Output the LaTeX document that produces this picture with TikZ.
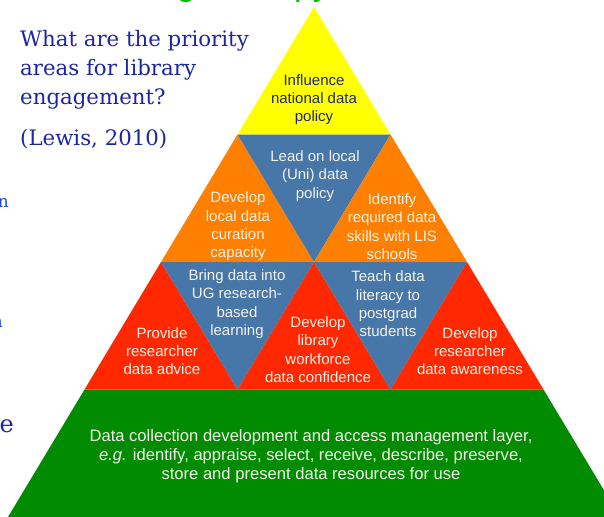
\documentclass[tikz,border=0pt]{standalone}
\usepackage{fontspec}
\newfontfamily\pyrfont{Liberation Sans}
\newfontfamily\askfont{DejaVu Serif}
\usetikzlibrary{positioning}

\definecolor{pyryellow}{RGB}{255,255,0}
\definecolor{pyrblue}{RGB}{70,119,168}
\definecolor{pyrorange}{RGB}{255,128,0}
\definecolor{pyrred}{RGB}{255,40,0}
\definecolor{pyrgreen}{RGB}{0,139,0}
\definecolor{navytext}{RGB}{30,40,110}
\definecolor{lighttext}{RGB}{245,242,235}
\definecolor{titleblue}{RGB}{28,38,160}
\definecolor{fragblue}{RGB}{30,75,210}
\definecolor{titlegreen}{RGB}{0,190,0}

\begin{document}
\begin{tikzpicture}[
    x=1pt, y=-1pt,
    lbl/.style={align=center, inner sep=0pt, text=lighttext, font=\pyrfont\fontsize{15}{18.3}\selectfont},
    toplbl/.style={lbl, text=navytext},
    baselbl/.style={lbl, font=\pyrfont\fontsize{16.6}{19}\selectfont},
    question/.style={align=left, inner sep=0pt, text=titleblue, font=\askfont\fontsize{21.3}{29}\selectfont},
    frag/.style={inner sep=0pt, text=fragblue, font=\askfont\fontsize{17}{20}\selectfont},
    titlefrag/.style={inner sep=0pt, text=titlegreen, font=\pyrfont\fontsize{34}{40}\selectfont}
]
\useasboundingbox (0,0) rectangle (604,516);
\clip (0,0) rectangle (604,516);

% Corners of the pyramid, level by level
\coordinate (apex) at (314,7);
\coordinate (a1) at (237.5,134.5); \coordinate (b1) at (390.5,134.5);
\coordinate (a2) at (161,262); \coordinate (m2) at (314,262); \coordinate (b2) at (467,262);
\coordinate (a3) at (84.5,389.5); \coordinate (c3) at (237.5,389.5);
\coordinate (d3) at (390.5,389.5); \coordinate (b3) at (543.5,389.5);
\coordinate (a4) at (8,517); \coordinate (b4) at (620,517);

% Level 1: top
\fill[pyryellow] (apex) -- (b1) -- (a1) -- cycle;

% Level 2: two orange, one blue upside down
\fill[pyrorange] (a1) -- (m2) -- (a2) -- cycle;
\fill[pyrblue] (a1) -- (b1) -- (m2) -- cycle;
\fill[pyrorange] (b1) -- (b2) -- (m2) -- cycle;

% Level 3: three red, two blue upside down
\fill[pyrred] (a2) -- (c3) -- (a3) -- cycle;
\fill[pyrblue] (a2) -- (m2) -- (c3) -- cycle;
\fill[pyrred] (m2) -- (d3) -- (c3) -- cycle;
\fill[pyrblue] (m2) -- (b2) -- (d3) -- cycle;
\fill[pyrred] (b2) -- (b3) -- (d3) -- cycle;

% Base layer
\fill[pyrgreen] (a3) -- (b3) -- (b4) -- (a4) -- cycle;

% Labels
\node[toplbl] (influence) at (314,99.5) {Influence\\national data\\policy};
\node[lbl] (leadlocal) at (315,176) {Lead on local\\(Uni) data\\policy};
\node[lbl] (curation) at (238,226.5) {Develop\\local data\\curation\\capacity};
\node[lbl] (lisskills) at (392,226.5) {Identify\\required data\\skills with LIS\\schools};
\node[lbl] (ugdata) at (237,304) {Bring data into\\UG research-\\based\\learning};
\node[lbl] (pgliteracy) at (388,304) {Teach data\\literacy to\\postgrad\\students};
\node[lbl] (advice) at (162,351) {Provide\\researcher\\data advice};
\node[lbl] (workforce) at (318,349.5) {Develop\\library\\workforce\\data confidence};
\node[lbl] (awareness) at (470,351) {Develop\\researcher\\data awareness};
\node[baselbl] (baselayer) at (311,456) {Data collection development and access management layer,\\
  \textit{e.g.} identify, appraise, select, receive, describe, preserve,\\
  store and present data resources for use};

% Question on the left
\node[question, anchor=north west] (priority) at (20,30.5) {What are the priority\\areas for library\\engagement?};
\node[question, anchor=base west] (lewis) at (20,145) {(Lewis, 2010)};

% Cut-off text at the edges
\node[frag, anchor=base east] (fragone) at (9,207) {n};
\node[frag, anchor=base east] (fragtwo) at (3,327) {n};
\node[question, anchor=base east, font=\askfont\fontsize{24}{28}\selectfont] (fragthree) at (14,432) {se};
\node[titlefrag, anchor=base] (titleg) at (186,-4) {g};
\node[titlefrag, anchor=base] (titlepy) at (312,-4) {py};
\end{tikzpicture}
\end{document}
